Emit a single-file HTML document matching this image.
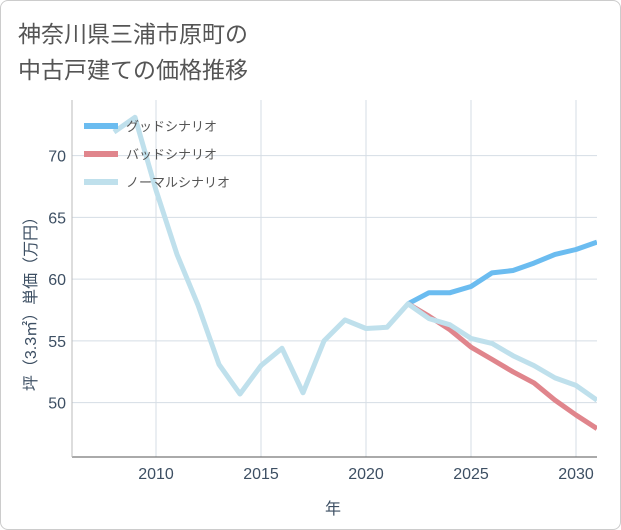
<!DOCTYPE html>
<html><head><meta charset="utf-8">
<style>
html,body{margin:0;padding:0;background:#fff;}
body{width:621px;height:530px;overflow:hidden;font-family:"Liberation Sans","Noto Sans CJK JP",sans-serif;}
.frame{position:absolute;left:0;top:0;width:619px;height:528px;border:1px solid #ccc;border-radius:8px;}
</style></head>
<body>
<div class="frame"></div>
<svg id="chart" width="621" height="530" style="position:absolute;left:0;top:0">
<text x="18" y="42" font-size="23" fill="#555" font-family="Liberation Sans, Noto Sans CJK JP, sans-serif">神奈川県三浦市原町の</text>
<text x="18" y="78" font-size="23" fill="#555" font-family="Liberation Sans, Noto Sans CJK JP, sans-serif">中古戸建ての価格推移</text>
<g id="grid"></g><g id="axes"></g><g id="series"></g><g id="legend"></g>
<text x="333" y="514" font-size="16" fill="#3d4f63" text-anchor="middle" font-family="Liberation Sans, Noto Sans CJK JP, sans-serif">年</text>
<text transform="translate(36,300) rotate(-90)" font-size="16" fill="#3d4f63" text-anchor="middle" font-family="Liberation Sans, Noto Sans CJK JP, sans-serif">坪（3.3㎡）単価（万円）</text>
</svg>
<script>
const xTicks=[2010,2015,2020,2025,2030];
const yTicks=[50,55,60,65,70];
const normalYears=[2008,2009,2010,2011,2012,2013,2014,2015,2016,2017,2018,2019,2020,2021,2022,2023,2024,2025,2026,2027,2028,2029,2030,2031];
const normalVals=[71.9,73.1,67.2,62,57.9,53.1,50.7,53,54.4,50.8,55,56.7,56,56.1,58,56.8,56.3,55.2,54.8,53.8,53.0,52.0,51.4,50.2];
const futureYears=[2022,2023,2024,2025,2026,2027,2028,2029,2030,2031];
const goodVals=[58,58.9,58.9,59.4,60.5,60.7,61.3,62,62.4,63];
const badVals=[58,57,55.9,54.5,53.5,52.5,51.6,50.2,49,47.9];
const L=72,R=597,T=100,B=457;
const xMin=2006,xMax=2031,yMin=45.6,yMax=74.5;
const xs=v=>L+(v-xMin)/(xMax-xMin)*(R-L);
const ys=v=>B-(v-yMin)/(yMax-yMin)*(B-T);
const NS="http://www.w3.org/2000/svg";
function mk(tag,attrs,parent){const e=document.createElementNS(NS,tag);for(const k in attrs)e.setAttribute(k,attrs[k]);parent.appendChild(e);return e;}
const grid=document.getElementById('grid'),axes=document.getElementById('axes'),ser=document.getElementById('series'),leg=document.getElementById('legend');
const bg=mk('rect',{x:L,y:T,width:R-L,height:B-T,fill:'#fff',stroke:'none'},grid);


xTicks.forEach(t=>{
 const l=mk('line',{x1:xs(t),x2:xs(t),y1:T,y2:B,stroke:'#d5dde5','stroke-width':1},grid);
 
 
 const tx=mk('text',{x:xs(t),y:B+22,'font-size':16,fill:'#3d4f63','text-anchor':'middle'},axes);
 tx.textContent=t;
 
 
});
yTicks.forEach(t=>{
 const l=mk('line',{x1:L,x2:R,y1:ys(t),y2:ys(t),stroke:'#d5dde5','stroke-width':1},grid);
 
 
 const tx=mk('text',{x:L-6,y:ys(t)+6,'font-size':16,fill:'#3d4f63','text-anchor':'end'},axes);
 tx.textContent=t;
 
 
});
const ax=mk('line',{x1:L,x2:R,y1:B,y2:B,stroke:'#555','stroke-width':1},axes);


const ay=mk('line',{x1:L,x2:L,y1:T,y2:B,stroke:'#bbb','stroke-width':1},axes);


function line(years,vals,color,name){
 const d=years.map((y,i)=>(i?'L':'M')+xs(y).toFixed(1)+','+ys(vals[i]).toFixed(1)).join(' ');
 const p=mk('path',{d:d,fill:'none',stroke:color,'stroke-width':5,'stroke-linejoin':'round'},ser);
 
 
}
const cp=mk('clipPath',{id:'clip'},ser);mk('rect',{x:L,y:T,width:R-L,height:B-T},cp);
ser.setAttribute('clip-path','url(#clip)');
line(futureYears,goodVals,'#6bbcf0','good-scenario-line');
line(futureYears,badVals,'#e0858c','bad-scenario-line');
line(normalYears,normalVals,'#bfe0ec','normal-scenario-line');
const items=[['グッドシナリオ','#6bbcf0','legend-good'],['バッドシナリオ','#e0858c','legend-bad'],['ノーマルシナリオ','#bfe0ec','legend-normal']];
items.forEach((it,i)=>{
 const y=126+i*28;
 const g=mk('g',{},leg);
 
 
 mk('line',{x1:84,x2:118,y1:y,y2:y,stroke:it[1],'stroke-width':6},g);
 const t=mk('text',{x:126,y:y+5,'font-size':13,fill:'#555'},g);
 t.textContent=it[0];
});
</script>
</body></html>
